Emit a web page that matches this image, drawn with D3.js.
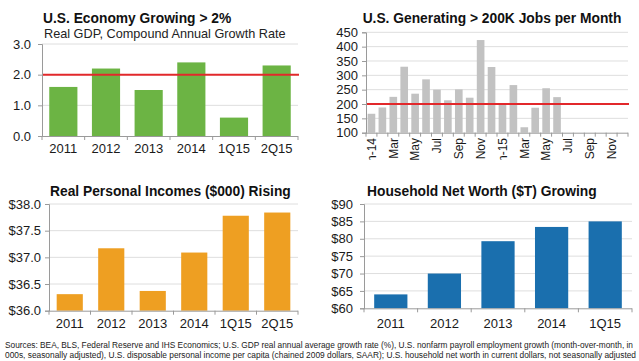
<!DOCTYPE html>
<html><head><meta charset="utf-8">
<script src="https://cdn.jsdelivr.net/npm/d3@7"></script>
<style>
html,body{margin:0;padding:0;background:#fff;}
svg{display:block;font-family:"Liberation Sans",Arial,Helvetica,sans-serif;}
</style></head>
<body>
<svg id="c" width="639" height="361"></svg>
<script>
// ---- data ----
const gdpCategories = ["2011","2012","2013","2014","1Q15","2Q15"];
const gdpValues = [1.6, 2.2, 1.5, 2.4, 0.6, 2.3];
const gdpTicks = [0, 1, 2, 3];

const jobMonths = ["Jan-14","Feb-14","Mar-14","Apr-14","May-14","Jun-14","Jul-14","Aug-14","Sep-14","Oct-14","Nov-14","Dec-14",
                   "Jan-15","Feb-15","Mar-15","Apr-15","May-15","Jun-15","Jul-15","Aug-15","Sep-15","Oct-15","Nov-15","Dec-15"];
const jobValues = [166, 188, 225, 330, 236, 286, 250, 213, 251, 222, 423, 329, 201, 266, 119, 187, 255, 224];
const jobTickLabels = ["Jan-14","Mar","May","Jul","Sep","Nov","Jan-15","Mar","May","Jul","Sep","Nov"];
const jobTicks = [100,150,200,250,300,350,400,450];

const incomeCategories = ["2011","2012","2013","2014","1Q15","2Q15"];
const incomeValues = [36.31, 37.17, 36.37, 37.09, 37.78, 37.84];
const incomeTicks = [36.0, 36.5, 37.0, 37.5, 38.0];

const worthCategories = ["2011","2012","2013","2014","1Q15"];
const worthValues = [64.0, 70.0, 79.3, 83.4, 85.0];
const worthTicks = [60,65,70,75,80,85,90];

const footerLines = [
 "Sources: BEA, BLS, Federal Reserve and IHS Economics; U.S. GDP real annual average growth rate (%), U.S. nonfarm payroll employment growth (month-over-month, in",
 "000s, seasonally adjusted), U.S. disposable personal income per capita (chained 2009 dollars, SAAR); U.S. household net worth in current dollars, not seasonally adjusted"
];

// ---- drawing ----
const svg = d3.select("#c");
const AXIS = "#9a9a9a", GRID = "#dedede", RED = "#e2282b", TXT = "#1a1a1a";

function panel(o){
  const g = svg.append("g");
  const x = d3.scaleBand().domain(o.cats).range([o.x0, o.x1]).paddingInner(o.pad).paddingOuter(o.pad/2);
  const y = d3.scaleLinear().domain(o.dom).range([o.y0, o.y1]);
  g.selectAll(".grid").data(o.ticks.slice(1)).join("line")
    .attr("x1", o.x0).attr("x2", o.x1).attr("y1", d=>y(d)).attr("y2", d=>y(d))
    .attr("stroke", GRID).attr("stroke-width", 1);
  g.selectAll(".bar").data(o.vals).join("rect")
    .attr("x", (d,i)=>x(o.cats[i])).attr("width", x.bandwidth())
    .attr("y", d=>y(d)).attr("height", d=>y(o.dom[0]) - y(d))
    .attr("fill", o.color);
  if (o.ref !== undefined){
    g.append("line").attr("x1", o.x0).attr("x2", o.x1+1).attr("y1", y(o.ref)).attr("y2", y(o.ref))
      .attr("stroke", RED).attr("stroke-width", 2);
  }
  const ya = d3.axisLeft(y).tickValues(o.ticks).tickSize(4).tickPadding(o.ypad).tickFormat(o.fmt);
  const yg = g.append("g").attr("transform", `translate(${o.x0},0)`).call(ya);
  yg.select(".domain").attr("stroke", AXIS);
  yg.selectAll(".tick line").attr("stroke", AXIS);
  yg.selectAll("text").attr("fill", TXT).attr("font-size", 13).attr("font-family", "Liberation Sans, Arial, sans-serif");
  g.append("line").attr("x1", o.x0).attr("x2", o.x1).attr("y1", o.y0+0.5).attr("y2", o.y0+0.5).attr("stroke", AXIS);
  const step = x.step();
  const bounds = d3.range(o.cats.length + 1).map(i => o.x0 + i*step);
  g.selectAll(".xt").data(bounds).join("line")
    .attr("x1", d=>d).attr("x2", d=>d).attr("y1", o.y0).attr("y2", o.y0+4).attr("stroke", AXIS);
  return {g, x, y};
}

// Panel 1: GDP
const p1 = panel({cats: gdpCategories, vals: gdpValues, ticks: gdpTicks, dom:[0,3],
  x0:42, x1:298, y0:136, y1:44, pad:0.34, color:"#6cb444", ref:2, ypad:7, fmt:d3.format(".1f")});
p1.g.selectAll(".xl").data(gdpCategories).join("text")
  .attr("x", d=>p1.x(d)+p1.x.bandwidth()/2).attr("y", 153).attr("text-anchor","middle")
  .attr("font-size", 13).attr("fill", TXT).text(d=>d);
svg.append("text").attr("x", 43).attr("y", 22.5).attr("font-size", 13.8).attr("font-weight","bold").attr("fill","#111")
  .text("U.S. Economy Growing > 2%");
svg.append("text").attr("x", 44).attr("y", 38).attr("font-size", 12.7).attr("fill","#222")
  .text("Real GDP, Compound Annual Growth Rate");

// Panel 2: Jobs
const p2 = panel({cats: jobMonths, vals: jobValues, ticks: jobTicks, dom:[100,450],
  x0:366, x1:628, y0:132.7, y1:32.3, pad:0.3, color:"#c2c2c2", ref:200, ypad:4, fmt:d3.format("d")});
svg.append("defs").append("clipPath").attr("id","clipJobs")
  .append("rect").attr("x", 330).attr("y", 134).attr("width", 309).attr("height", 26);
const jl = svg.append("g").attr("clip-path","url(#clipJobs)");
jl.selectAll("text").data(jobTickLabels).join("text")
  .attr("transform", (d,i)=>{
    const cx = p2.x(jobMonths[i*2]) + p2.x.bandwidth()/2;
    return `translate(${cx+4.3},138) rotate(-90)`;
  })
  .attr("text-anchor","end").attr("font-size", 12).attr("fill", TXT).text(d=>d);
svg.append("text").attr("x", 492).attr("y", 22.5).attr("text-anchor","middle").attr("font-size", 13.8)
  .attr("font-weight","bold").attr("fill","#111").text("U.S. Generating > 200K Jobs per Month");

// Panel 3: Income
const p3 = panel({cats: incomeCategories, vals: incomeValues, ticks: incomeTicks, dom:[36,38],
  x0:49, x1:298, y0:310.7, y1:204, pad:0.37, color:"#ee9f22", ypad:4, fmt:d=>"$"+d3.format(".1f")(d)});
p3.g.selectAll(".xl").data(incomeCategories).join("text")
  .attr("x", d=>p3.x(d)+p3.x.bandwidth()/2).attr("y", 327.5).attr("text-anchor","middle")
  .attr("font-size", 13).attr("fill", TXT).text(d=>d);
svg.append("text").attr("x", 50).attr("y", 196).attr("font-size", 13.8).attr("font-weight","bold").attr("fill","#111")
  .text("Real Personal Incomes ($000) Rising");

// Panel 4: Net worth
const p4 = panel({cats: worthCategories, vals: worthValues, ticks: worthTicks, dom:[60,90],
  x0:364, x1:632, y0:308.3, y1:204, pad:0.38, color:"#1a6fae", ypad:7, fmt:d=>"$"+d});
p4.g.selectAll(".xl").data(worthCategories).join("text")
  .attr("x", d=>p4.x(d)+p4.x.bandwidth()/2).attr("y", 327.5).attr("text-anchor","middle")
  .attr("font-size", 13).attr("fill", TXT).text(d=>d);
svg.append("text").attr("x", 367).attr("y", 196).attr("font-size", 13.8).attr("font-weight","bold").attr("fill","#111")
  .text("Household Net Worth ($T) Growing");

// Footer
const fw = [628, 631];
svg.selectAll(".ft").data(footerLines).join("text")
  .attr("x", 5).attr("y", (d,i)=>348 + i*10).attr("font-size", 8.4).attr("fill","#222")
  .attr("textLength", (d,i)=>fw[i]).attr("lengthAdjust","spacingAndGlyphs").text(d=>d);
</script>
</body></html>
